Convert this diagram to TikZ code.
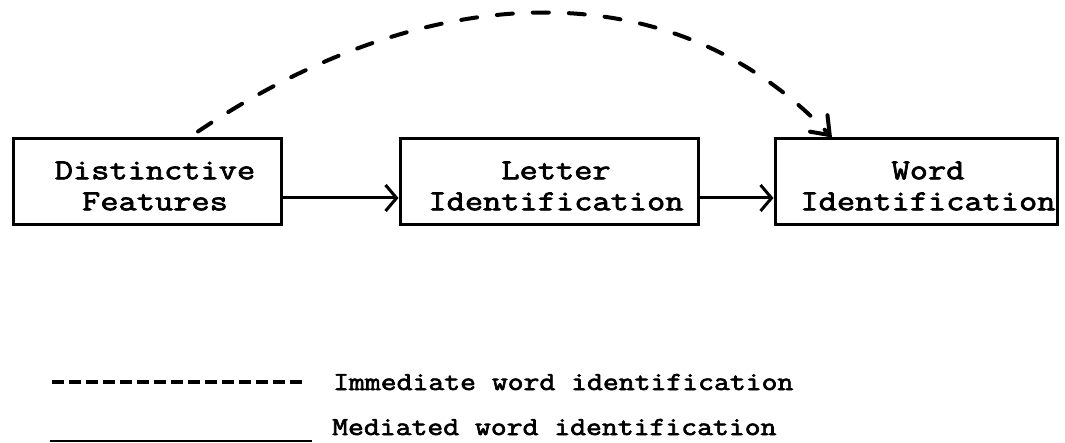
\documentclass[tikz,border=0pt]{standalone}
\usepackage{fontspec}
\newfontfamily\boxfont{Latin Modern Mono}[FakeStretch=1.22, FakeBold=2.5]
\newfontfamily\legfont{Latin Modern Mono}[FakeStretch=1.185, FakeBold=2.5]
\usetikzlibrary{arrows.meta}
\begin{document}
\begin{tikzpicture}[x=1pt,y=-1pt,
  box/.style={draw, line width=3pt, rectangle, minimum height=86pt, inner sep=0pt},
  boxtext/.style={align=center, inner sep=0pt, yshift=-4pt, font=\boxfont\fontsize{29}{31}\selectfont},
  arr/.style={line width=3pt, -{Straight Barb[length=11pt,width=26pt]}},
  curvearr/.style={line width=4pt, line cap=round, dash pattern=on 16pt off 20pt,
    -{Straight Barb[length=16pt,width=24pt,line cap=round]}},
  legdash/.style={line width=3.5pt, dash pattern=on 12pt off 5pt},
  legsolid/.style={line width=2.5pt},
  legtext/.style={anchor=base west, inner sep=0pt, font=\legfont\fontsize{26}{28}\selectfont}]
\useasboundingbox[fill=white] (0,0) rectangle (1065,443);
\node[box, minimum width=268pt, label={[boxtext, name=dft, xshift=8pt]center:Distinctive\\Features}] (df) at (147,182) {};
\node[box, minimum width=298pt, label={[boxtext, name=lit, xshift=7pt]center:Letter\\Identification}] (li) at (549,182) {};
\node[box, minimum width=282pt, label={[boxtext, name=wit, xshift=12pt]center:Word\\Identification}] (wi) at (916,182) {};
\draw[arr] ([yshift=-16pt]df.east) -- ([yshift=-16pt]li.west);
\draw[arr] ([yshift=-16pt]li.east) -- ([yshift=-16pt]wi.west);
\draw[curvearr] ([xshift=51pt,yshift=6pt]df.north) .. controls (428,-23) and (672,-32) .. ([xshift=-84pt]wi.north);
\coordinate (d1) at (52,382);
\coordinate (d2) at (305,382);
\coordinate (s1) at (50,441);
\coordinate (s2) at (312,441);
\draw[legdash] (d1) -- (d2);
\draw[legsolid] (s1) -- (s2);
\node[legtext] (imm) at (333,390) {Immediate word identification};
\node[legtext] (med) at (332,435) {Mediated word identification};
\end{tikzpicture}
\end{document}
